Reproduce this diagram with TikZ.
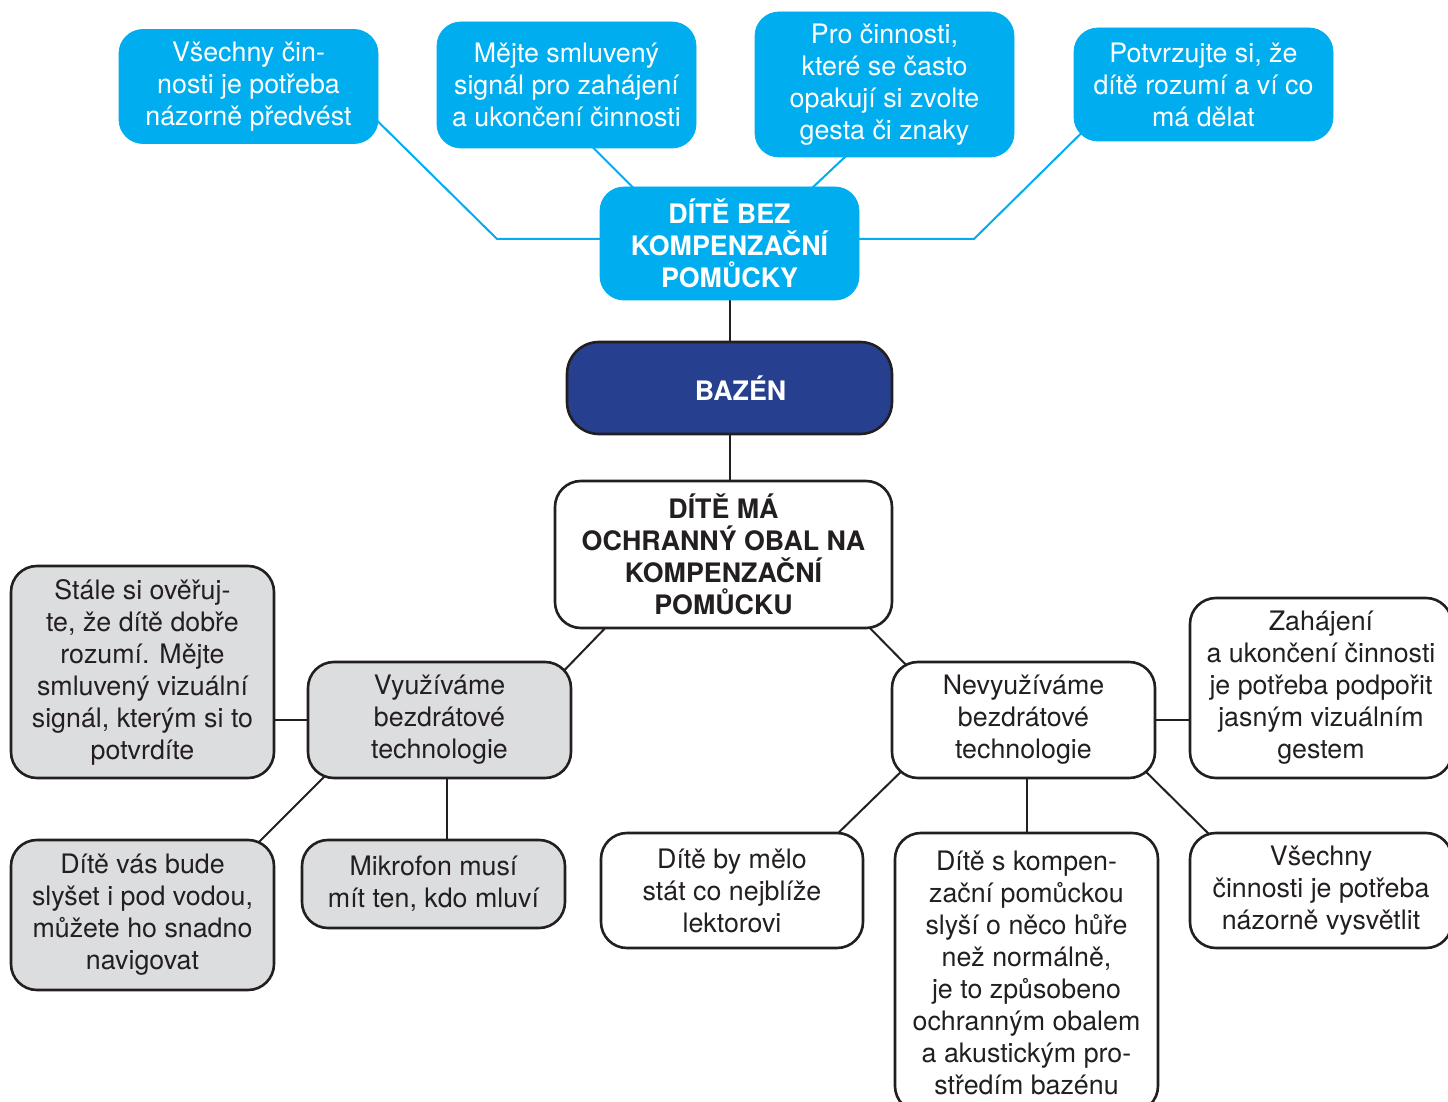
\documentclass[tikz,border=0pt]{standalone}
\usepackage{fontspec}
\setmainfont{TeX Gyre Heros}
\usetikzlibrary{backgrounds,calc}
\definecolor{cyanbox}{HTML}{00AEEF}
\definecolor{navybox}{HTML}{263F8E}
\definecolor{graybox}{HTML}{DCDDDF}
\definecolor{ink}{HTML}{231F20}
\tikzset{
  sz/.style 2 args={minimum width=#1*0.5pt, minimum height=#2*0.5pt},
  base/.style={rectangle, inner sep=0pt, align=center, font=\fontsize{13.4}{16}\selectfont},
  bluebox/.style={base, fill=cyanbox, draw=cyanbox, text=white, rounded corners=12pt},
  navy/.style={base, fill=navybox, draw=ink, line width=1.3pt, text=white, rounded corners=16pt, font=\fontsize{13.4}{16}\selectfont\bfseries},
  whitebox/.style={base, fill=white, draw=ink, line width=1.3pt, text=ink, rounded corners=13pt},
  greybox/.style={whitebox, fill=graybox},
  blueline/.style={draw=cyanbox, line width=1pt},
  blackline/.style={draw=ink, line width=1pt},
}
\begin{document}
\begin{tikzpicture}[x=0.5pt,y=-0.5pt]
\useasboundingbox (0,0) rectangle (1448,1102);
% top blue row
\node[bluebox, sz={259}{114}] (n1) at (248.5,86.5) {Všechny čin-\\nosti je potřeba\\názorně předvést};
\node[bluebox, sz={259}{126}] (n2) at (566.5,85) {Mějte smluvený\\signál pro zahájení\\a ukončení činnosti};
\node[bluebox, sz={259}{145}] (n3) at (884.5,84.5) {Pro činnosti,\\které se často\\opakují si zvolte\\gesta či znaky};
\node[bluebox, sz={259}{113}] (n4) at (1203.5,84.5) {Potvrzujte si, že\\dítě rozumí a ví co\\má dělat};
\node[bluebox, sz={259}{113}, font=\fontsize{13.4}{16}\selectfont\bfseries] (n5) at (729.5,243.5) {DÍTĚ BEZ\\KOMPENZAČNÍ\\POMŮCKY};
% centre
\node[navy, sz={325}{92}] (n6) at (729.5,388) {\hspace*{11pt}BAZÉN};
\node[whitebox, sz={337}{147}, font=\fontsize{13.4}{16}\selectfont\bfseries] (n7) at (723.5,554.5) {DÍTĚ MÁ\\OCHRANNÝ OBAL NA\\KOMPENZAČNÍ\\POMŮCKU};
% left branch
\node[greybox, sz={263}{212}] (n8) at (142.5,672) {Stále si ověřuj-\\te, že dítě dobře\\rozumí. Mějte\\smluvený vizuální\\signál, kterým si to\\potvrdíte};
\node[greybox, sz={263}{116}] (n9) at (439.5,720) {Využíváme\\bezdrátové\\technologie};
\node[greybox, sz={263}{150}] (n10) at (142.5,915) {Dítě vás bude\\slyšet i pod vodou,\\můžete ho snadno\\navigovat};
\node[greybox, sz={263}{88}] (n11) at (433.5,884) {Mikrofon musí\\mít ten, kdo mluví};
% right branch
\node[whitebox, sz={263}{116}] (n12) at (1023.5,720) {Nevyužíváme\\bezdrátové\\technologie};
\node[whitebox, sz={262}{180}] (n13) at (1321,688) {Zahájení\\a ukončení činnosti\\je potřeba podpořit\\jasným vizuálním\\gestem};
\node[whitebox, sz={262}{115}] (n14) at (732,890.5) {Dítě by mělo\\stát co nejblíže\\lektorovi};
\node[whitebox, sz={263}{279}] (n15) at (1026.5,972.5) {Dítě s kompen-\\zační pomůckou\\slyší o něco hůře\\než normálně,\\je to způsobeno\\ochranným obalem\\a akustickým pro-\\středím bazénu};
\node[whitebox, sz={262}{115}] (n16) at (1321,890.5) {Všechny\\činnosti je potřeba\\názorně vysvětlit};
% connectors
\begin{scope}[on background layer]
\fill[white] (0,0) rectangle (1448,1102);
\draw[blueline] ($(n1.east)+(-8,27.5)$) -- (497,239) -- ($(n5.west)+(10,-4.5)$);
\draw[blueline] ($(n2.south)+(17.5,-10)$) -- ($(n5.north)+(-87.5,10)$);
\draw[blueline] ($(n3.south)+(-30.5,-9)$) -- ($(n5.north)+(73.5,10)$);
\draw[blueline] ($(n4.west)+(19,37.5)$) -- (974,239) -- ($(n5.east)+(-10,-4.5)$);
\draw[blackline] (n5.south) -- (n6.north);
\draw[blackline] (n6.south) -- (n6.south |- n7.north);
\draw[blackline] ($(n7.south west)+(60,-10)$) -- ($(n9.north east)+(-18,20)$);
\draw[blackline] ($(n7.south east)+(-32,-10)$) -- ($(n12.north west)+(26,15)$);
\draw[blackline] (n9.west) -- (n9.west -| n8.east);
\draw[blackline] ($(n9.south west)+(28,-13)$) -- ($(n10.north east)+(-26,13)$);
\draw[blackline] ($(n9.south)+(7.5,0)$) coordinate (a1) -- (a1 |- n11.north);
\draw[blackline] (n12.east) -- (n12.east -| n13.west);
\draw[blackline] ($(n12.south west)+(21,-18)$) -- ($(n14.north east)+(-35,10)$);
\draw[blackline] ($(n12.south)+(3.5,0)$) coordinate (a2) -- (a2 |- n15.north);
\draw[blackline] ($(n12.south east)+(-21,-18)$) -- ($(n16.north west)+(30,12)$);
\end{scope}
\end{tikzpicture}
\end{document}
